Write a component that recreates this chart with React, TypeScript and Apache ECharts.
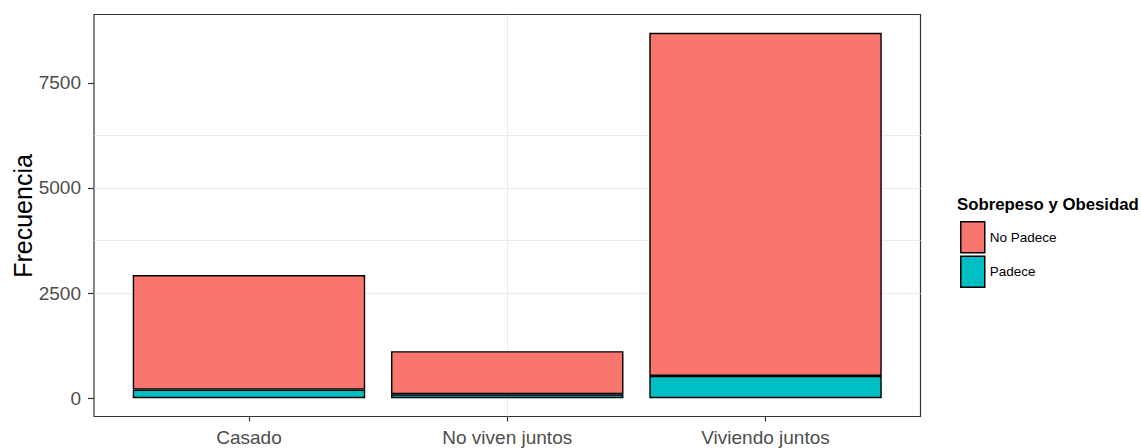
import React, { useEffect, useRef } from "react";
import * as echarts from "echarts";

const categories = ["Casado", "No viven juntos", "Viviendo juntos"];
const padece = [205, 95, 531];
const noPadece = [2724, 1024, 8159];
const legendOrder = ["No Padece", "Padece"];
const yTicks = [0, 2500, 5000, 7500];
const yMinorTicks = [1250, 3750, 6250, 8750];
const legendTitle = "Sobrepeso y Obesidad";
const yTitle = "Frecuencia";

const SANS = "'Liberation Sans', Arial, sans-serif";

export default function App() {
  const ref = useRef<HTMLDivElement>(null);
  useEffect(() => {
    if (!ref.current) return;
    const chart = echarts.init(ref.current, null, { renderer: "svg" });
    const totals = categories.map((_, i) => padece[i] + noPadece[i]);
    const maxTotal = Math.max(...totals);
    const yMin = -0.05 * maxTotal;
    const yMax = maxTotal * 1.05;
    const xPos = categories.map((_, i) => i);

    const panel = { left: 94, top: 14.5, width: 826.5, height: 402 };
    const unit = panel.width / 3.2;

    chart.setOption({
      animation: false,
      backgroundColor: "#fff",
      title: {
        text: legendTitle,
        left: 957,
        top: 196,
        padding: 0,
        textStyle: { fontFamily: SANS, fontWeight: "bold", fontSize: 16.8, color: "#000" },
      },
      legend: {
        orient: "vertical",
        left: 960,
        top: 221,
        padding: 0,
        itemWidth: 24,
        itemHeight: 31,
        itemGap: 2,
        icon: "rect",
        data: legendOrder,
        textStyle: { fontFamily: SANS, fontSize: 13.5, color: "#000" },
        itemStyle: { borderColor: "#000", borderWidth: 1.5 },
      },
      grid: [
        { ...panel, show: true, borderColor: "#333", borderWidth: 1.2, backgroundColor: "#fff", containLabel: false },
        { left: panel.left + 0.1 * unit, top: panel.top, width: 3 * unit, height: panel.height, containLabel: false },
      ],
      xAxis: [
        {
          gridIndex: 0,
          type: "value",
          min: -0.6,
          max: 2.6,
          axisLine: { show: false, onZero: false },
          axisLabel: { show: false },
          axisTick: { show: false, customValues: xPos },
          splitLine: { show: true, showMinLine: false, showMaxLine: false, lineStyle: { color: "#ebebeb", width: 1 } },
        },
        {
          gridIndex: 1,
          type: "category",
          data: categories,
          axisLine: { show: false, onZero: false },
          axisTick: { show: true, alignWithLabel: true, length: 5, lineStyle: { color: "#333", width: 1.2 } },
          axisLabel: { fontFamily: SANS, fontSize: 19, color: "#4d4d4d", margin: 11 },
          splitLine: { show: false },
        },
      ],
      yAxis: [
        {
          gridIndex: 0,
          type: "value",
          min: yMin,
          max: yMax,
          axisLine: { show: false, onZero: false },
          axisTick: { show: true, length: 6, customValues: yTicks, lineStyle: { color: "#333", width: 1.2 } },
          axisLabel: {
            customValues: yTicks,
            formatter: (v: number) => String(v),
            fontFamily: SANS,
            fontSize: 19,
            color: "#4d4d4d",
            margin: 13,
          },
          splitLine: { show: true, showMinLine: false, showMaxLine: false, lineStyle: { color: "#ebebeb", width: 1.2 } },
        },
        {
          gridIndex: 0,
          type: "value",
          min: yMin,
          max: yMax,
          axisLine: { show: false, onZero: false },
          axisTick: { show: false, customValues: yMinorTicks },
          axisLabel: { show: false, customValues: yMinorTicks },
          splitLine: { show: true, showMinLine: false, showMaxLine: false, lineStyle: { color: "#ebebeb", width: 1 } },
        },
        {
          gridIndex: 1,
          type: "value",
          min: yMin,
          max: yMax,
          show: false,
          axisLine: { onZero: false },
        },
      ],
      graphic: [
        {
          type: "text",
          x: 23,
          y: 216,
          rotation: Math.PI / 2,
          style: {
            text: yTitle,
            font: `25px ${SANS}`,
            fill: "#000",
            align: "center",
            verticalAlign: "middle",
          },
        },
      ],
      series: [
        {
          type: "bar",
          name: "Padece",
          xAxisIndex: 1,
          yAxisIndex: 2,
          stack: "total",
          barWidth: "90%",
          data: padece,
          itemStyle: { color: "#00BFC4", borderColor: "#000", borderWidth: 1.4 },
        },
        {
          type: "bar",
          name: "No Padece",
          xAxisIndex: 1,
          yAxisIndex: 2,
          stack: "total",
          barWidth: "90%",
          data: noPadece,
          itemStyle: { color: "#F8766D", borderColor: "#000", borderWidth: 1.4 },
        },
      ],
    });
    return () => chart.dispose();
  }, []);
  return (
    <div
      ref={ref}
      style={{ position: "fixed", left: 0, top: 0, width: 1141, height: 448, background: "#fff" }}
    />
  );
}
